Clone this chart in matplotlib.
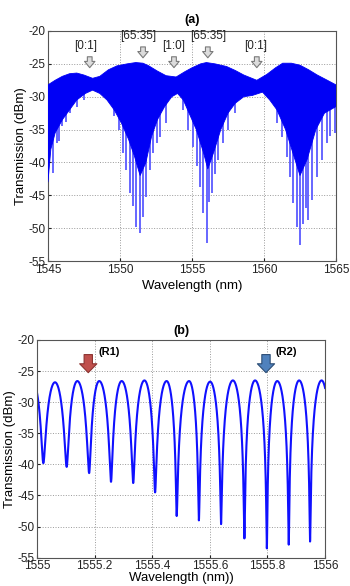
import numpy as np
import matplotlib
matplotlib.use('Agg')
import matplotlib.pyplot as plt

plt.rcParams['font.family'] = ['Liberation Sans', 'DejaVu Sans']
plt.rcParams['axes.unicode_minus'] = False

# ---- panel (a): envelopes ----
top_wl = [1545.0, 1545.5, 1546.0, 1546.5, 1547.0, 1547.5, 1548.1, 1548.6, 1549.2, 1549.8,
          1550.5, 1551.1, 1551.6, 1552.0, 1552.6, 1553.2, 1553.9, 1554.5, 1555.0, 1555.6,
          1556.0, 1556.6, 1557.4, 1558.0, 1558.6, 1559.5, 1560.2, 1560.8, 1561.3, 1561.9,
          1562.5, 1563.1, 1563.7, 1564.4, 1565.0]
top_db = [-28.2, -27.5, -26.9, -26.5, -26.4, -26.7, -27.2, -26.9, -25.9, -25.3,
          -25.0, -24.8, -24.9, -25.3, -26.1, -26.8, -27.0, -26.2, -25.6, -25.0,
          -24.8, -25.0, -25.4, -26.0, -26.7, -27.5, -26.6, -25.6, -24.9, -24.9,
          -25.2, -25.9, -26.7, -27.5, -28.2]

band_wl = [1545.0, 1545.2, 1545.5, 1546.0, 1546.5, 1547.0, 1547.6, 1548.1, 1548.6, 1549.1,
           1549.6, 1550.1, 1550.6, 1551.0, 1551.4, 1551.8, 1552.2, 1552.6, 1553.1, 1553.6,
           1554.0, 1554.4, 1554.8, 1555.3, 1555.8, 1556.1, 1556.5, 1557.0, 1557.5, 1558.0,
           1558.6, 1559.2, 1559.9, 1560.4, 1560.9, 1561.5, 1562.0, 1562.5, 1563.0, 1563.6,
           1564.2, 1565.0]
band_db = [-43.0, -38.0, -35.5, -33.5, -32.0, -30.5, -29.5, -29.0, -29.5, -30.5,
           -32.0, -34.0, -36.5, -39.0, -42.0, -40.0, -36.0, -33.5, -31.5, -30.0,
           -29.5, -30.5, -32.5, -35.0, -38.5, -41.0, -38.5, -35.0, -32.5, -31.0,
           -30.0, -29.8, -29.3, -30.5, -32.0, -35.0, -38.5, -42.0, -39.5, -35.0,
           -32.5, -31.5]

spike_wl = [1545.0, 1545.1, 1545.37, 1545.6, 1545.79, 1546.0, 1546.25, 1546.5, 1547.0, 1547.5,
            1549.6, 1549.9, 1550.2, 1550.44, 1550.67, 1550.9, 1551.13, 1551.41, 1551.6, 1551.83,
            1552.06, 1552.3, 1552.55, 1552.75, 1553.2,
            1554.4, 1554.74, 1555.09, 1555.33, 1555.56, 1555.79, 1556.02, 1556.2, 1556.37, 1556.6,
            1556.83, 1557.17, 1557.52, 1557.99,
            1560.88, 1561.23, 1561.57, 1561.8, 1562.03, 1562.27, 1562.5, 1562.73, 1562.9, 1563.08,
            1563.3, 1563.66, 1564.0, 1564.35, 1564.6, 1564.93]
spike_db = [-43.2, -40.0, -41.6, -37.0, -36.8, -34.5, -33.8, -32.5, -31.5, -30.5,
            -33.0, -35.0, -38.6, -41.2, -44.7, -46.7, -49.8, -50.8, -48.3, -45.2,
            -41.2, -38.6, -37.0, -36.1, -34.0,
            -32.0, -35.1, -37.6, -40.6, -43.7, -47.7, -52.3, -46.0, -44.7, -41.7,
            -39.6, -37.1, -35.1, -32.5,
            -34.0, -36.1, -39.1, -42.2, -46.2, -49.8, -52.6, -49.3, -47.0, -48.8,
            -45.7, -42.2, -39.6, -37.1, -36.0, -35.5]

arrow_labels = ['[0:1]', '[65:35]', '[1:0]', '[65:35]', '[0:1]']
arrow_wl = [1547.9, 1551.6, 1553.75, 1556.1, 1559.5]
label_wl = [1547.6, 1551.3, 1553.75, 1556.1, 1559.45]

# ---- panel (b): fringe peaks and dips ----
peak_wl = [1554.985, 1555.0625, 1555.140, 1555.216, 1555.294, 1555.373, 1555.450, 1555.528,
           1555.601, 1555.680, 1555.757, 1555.834, 1555.910, 1555.988]
peak_db = [-26.7, -26.8, -26.6, -26.6, -26.6, -26.5, -26.6, -26.6,
           -26.7, -26.5, -26.5, -26.6, -26.5, -26.5]
dip_wl = [1555.022, 1555.103, 1555.181, 1555.257, 1555.334, 1555.410, 1555.485,
          1555.562, 1555.639, 1555.720, 1555.798, 1555.874, 1555.948, 1556.025]
dip_db = [-39.8, -40.4, -41.4, -42.8, -43.0, -44.5, -48.3,
          -49.0, -49.6, -51.9, -53.5, -52.9, -52.4, -52.0]

# build the fringe trace: cos^2 fall-off (in linear power) from each peak to each dip
wl_b, db_b = [], []
for i in range(len(dip_wl)):
    for a, b in [(i, i), (i + 1, i)]:
        if a >= len(peak_wl):
            continue
        s = np.linspace(0, 1, 80)
        tp = 10 ** (peak_db[a] / 10)
        td = 10 ** (dip_db[b] / 10)
        t = td + (tp - td) * np.cos(np.pi / 2 * s) ** 2
        w = peak_wl[a] + (dip_wl[b] - peak_wl[a]) * s
        if a > b:
            w, t = w[::-1], t[::-1]
        wl_b.append(w)
        db_b.append(10 * np.log10(t))
wl_b = np.concatenate(wl_b)
db_b = np.concatenate(db_b)

fig = plt.figure(figsize=(3.5, 5.86), dpi=100)
ax1 = fig.add_axes([0.137, 0.5546, 0.823, 0.3925])
ax2 = fig.add_axes([0.1057, 0.0483, 0.823, 0.3715])

def style(ax):
    ax.grid(True, linestyle=':', color='#9a9a9a', linewidth=0.7)
    ax.set_axisbelow(True)
    ax.tick_params(direction='in', length=2, labelsize=8.5, pad=2, colors='#222222')
    for sp in ax.spines.values():
        sp.set_color('#555555')
        sp.set_linewidth(0.8)

# panel (a)
ax1.vlines(spike_wl, -29, spike_db, color='#6666ff', linewidth=1.4, zorder=2)
poly_x = np.concatenate([top_wl, band_wl[::-1]])
poly_y = np.concatenate([top_db, band_db[::-1]])
ax1.fill(poly_x, poly_y, color='#0000f5', linewidth=0.6, zorder=3)
for lab, w, lw_ in zip(arrow_labels, arrow_wl, label_wl):
    big = lab == '[65:35]'
    tip = -24.5 if big else -26.0
    ax1.annotate('', xy=(w, tip), xytext=(w, tip + 2.5),
                 arrowprops=dict(arrowstyle='simple,head_length=0.45,head_width=0.75,tail_width=0.34',
                                 fc='#dcdcdc', ec='#7a7a7a', lw=0.8, mutation_scale=10), zorder=5)
    ax1.text(lw_, tip + 3.75, lab, ha='center', va='center',
             fontsize=8.5, color='#222222', zorder=5)
ax1.set_xlim(1545, 1565)
ax1.set_ylim(-55, -20)
ax1.set_xticks(np.arange(1545, 1566, 5))
ax1.set_yticks(np.arange(-55, -19, 5))
ax1.set_xlabel('Wavelength (nm)', fontsize=9.5, labelpad=3)
ax1.set_ylabel('Transmission (dBm)', fontsize=9.5, labelpad=1)
ax1.set_title('(a)', fontsize=9, fontweight='bold', pad=6)
style(ax1)

# panel (b)
ax2.plot(wl_b, db_b, color='#1010ff', linewidth=1.5)
ax2.annotate('', xy=(1555.178, -25.7), xytext=(1555.178, -21.9),
             arrowprops=dict(arrowstyle='simple,head_length=0.32,head_width=0.62,tail_width=0.3',
                             fc='#c0504d', ec='#8c3330', lw=0.8, mutation_scale=20))
ax2.annotate('', xy=(1555.795, -25.7), xytext=(1555.795, -21.9),
             arrowprops=dict(arrowstyle='simple,head_length=0.32,head_width=0.62,tail_width=0.3',
                             fc='#4f81bd', ec='#2c4d75', lw=0.8, mutation_scale=20))
ax2.text(1555.252, -22.0, '(R1)', ha='center', va='center', fontsize=8, fontweight='bold')
ax2.text(1555.867, -22.0, '(R2)', ha='center', va='center', fontsize=8, fontweight='bold')
ax2.set_xlim(1555, 1556)
ax2.set_ylim(-55, -20)
ax2.set_xticks([1555, 1555.2, 1555.4, 1555.6, 1555.8, 1556])
ax2.set_xticklabels(['1555', '1555.2', '1555.4', '1555.6', '1555.8', '1556'])
ax2.set_yticks(np.arange(-55, -19, 5))
ax2.set_xlabel('Wavelength (nm))', fontsize=9.5, labelpad=0)
ax2.set_ylabel('Transmission (dBm)', fontsize=9.5, labelpad=1)
ax2.set_title('(b)', fontsize=9, fontweight='bold', pad=4)
style(ax2)

fig.savefig('out.png', dpi=100)
